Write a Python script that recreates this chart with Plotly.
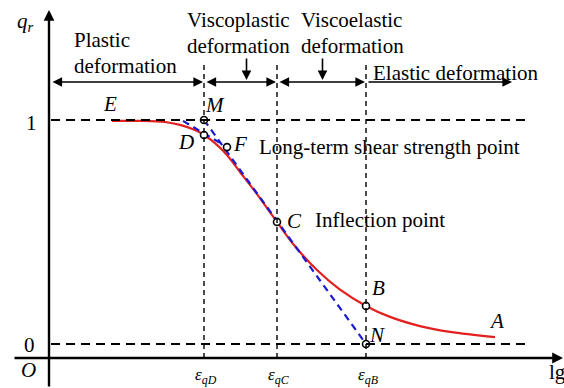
import plotly.graph_objects as go

W, H = 564, 388
FONT = "Liberation Serif"

# ---- data -------------------------------------------------------------
# relative shear stress q_r against lg(strain), normalised curve E -> A
curve_lg = [0.63, 0.91, 1.16, 1.31, 1.46, 1.55, 1.66, 1.78, 1.91, 2.06,
            2.28, 2.45, 2.68, 2.90, 3.17, 3.41, 3.71, 4.01, 4.46]
curve_q = [0.996, 0.996, 0.991, 0.978, 0.955, 0.933, 0.897, 0.844, 0.768, 0.681,
           0.545, 0.442, 0.330, 0.246, 0.170, 0.121, 0.080, 0.054, 0.031]

# characteristic strains
eps_D, eps_C, eps_B = 1.55, 2.28, 3.17

# labelled points
pt_names = ["M", "D", "F", "C", "B", "N"]
pt_lg = [1.55, 1.55, 1.78, 2.28, 3.17, 3.17]
pt_q = [1.0, 0.933, 0.879, 0.545, 0.170, 0.0]

# tangent at the inflection point (M -> N) and tangent near D (-> F)
tan_C_lg, tan_C_q = [1.55, 3.17], [1.0, 0.0]
tan_D_lg, tan_D_q = [1.34, 1.78], [0.996, 0.879]

# ---- scales -----------------------------------------------------------
PX_PER_LG, PX_PER_Q = 100, 224
X0, Y0 = 49, 344  # where lg = 0 and q_r = 0 fall on the page


def X(px):
    return (px - X0) / PX_PER_LG


def Y(py):
    return (Y0 - py) / PX_PER_Q


fig = go.Figure()

# curve
fig.add_trace(go.Scatter(x=curve_lg, y=curve_q, mode="lines",
                         line=dict(color="#e3201f", width=2.2, shape="spline"),
                         hoverinfo="skip"))
# tangents
for lx, ly in [(tan_C_lg, tan_C_q), (tan_D_lg, tan_D_q)]:
    fig.add_trace(go.Scatter(x=lx, y=ly, mode="lines",
                             line=dict(color="#1a1ad0", width=2.2, dash="7px,5px"),
                             hoverinfo="skip"))
# points
fig.add_trace(go.Scatter(x=pt_lg, y=pt_q, mode="markers",
                         marker=dict(size=7, color="white",
                                     line=dict(color="black", width=1.6)),
                         hoverinfo="skip"))

shapes = []
# reference levels q_r = 1 and q_r = 0
for q in (1.0, 0.0):
    shapes.append(dict(type="line", xref="x", yref="y", x0=X(51), x1=X(530),
                       y0=q, y1=q, line=dict(color="black", width=2, dash="9px,6px")))
# strain markers
for e in (eps_D, eps_C, eps_B):
    shapes.append(dict(type="line", xref="x", yref="y", x0=e, x1=e,
                       y0=Y(358), y1=Y(62), line=dict(color="black", width=1.4, dash="5px,4px")))

ann = []


def arrow(x0, y0, x1, y1, both=False, width=1.6, size=1.2):
    a = dict(x=X(x1), y=Y(y1), ax=X(x0), ay=Y(y0), xref="x", yref="y",
             axref="x", ayref="y", showarrow=True, arrowhead=2, arrowsize=size,
             arrowwidth=width, arrowcolor="black", text="", standoff=0, startstandoff=0)
    if both:
        a.update(arrowside="end+start", startarrowhead=2, startarrowsize=size)
    ann.append(a)


# axes
arrow(13, 358, 563, 358, width=2.4, size=0.9)
arrow(49, 388, 49, 10, width=2.4, size=0.9)

# zone arrows
arrow(51, 82, 203, 82, both=True)
arrow(205, 82, 276, 82, both=True)
arrow(278, 82, 365, 82, both=True)
arrow(367, 82, 512, 82)
arrow(246.5, 57, 246.5, 80)
arrow(322.5, 57, 322.5, 80)


def text(px, py, s, size=21, anchor="center", italic=False):
    if italic:
        s = "<i>" + s + "</i>"
    ann.append(dict(x=X(px), y=Y(py), xref="x", yref="y", text=s, showarrow=False,
                    xanchor=anchor, yanchor="middle",
                    font=dict(family=FONT, size=size, color="black")))


text(72, 40, "Plastic", anchor="left")
text(72, 66, "deformation", anchor="left")
text(185, 20, "Viscoplastic", anchor="left")
text(185, 46, "deformation", anchor="left")
text(299, 20, "Viscoelastic", anchor="left")
text(299, 46, "deformation", anchor="left")
text(371, 73, "Elastic deformation", anchor="left")

text(25, 22, "<i>q</i><sub><i>r</i></sub>", size=21)
text(31, 123, "1")
text(29, 345, "0")
text(28, 370, "O", italic=True)
text(547, 372, "lg", anchor="left")

text(206, 376, "<i>ε</i><sub><i>qD</i></sub>", size=17)
text(279, 376, "<i>ε</i><sub><i>qC</i></sub>", size=17)
text(368, 376, "<i>ε</i><sub><i>qB</i></sub>", size=17)

text(110, 104, "E", italic=True)
text(215, 105, "M", italic=True)
text(186, 142, "D", italic=True)
text(240, 144, "F", italic=True)
text(257, 147, "Long-term shear strength point", anchor="left")
text(294, 221, "C", italic=True)
text(313, 220, "Inflection point", anchor="left")
text(378, 288, "B", italic=True)
text(377, 335, "N", italic=True)
text(496, 321, "A", italic=True)

fig.update_layout(
    width=W, height=H, margin=dict(l=0, r=0, t=0, b=0),
    paper_bgcolor="white", plot_bgcolor="white", showlegend=False,
    xaxis=dict(range=[X(0), X(W)], visible=False, fixedrange=True),
    yaxis=dict(range=[Y(H), Y(0)], visible=False, fixedrange=True),
    shapes=shapes, annotations=ann,
)

fig.write_html("out.html")
